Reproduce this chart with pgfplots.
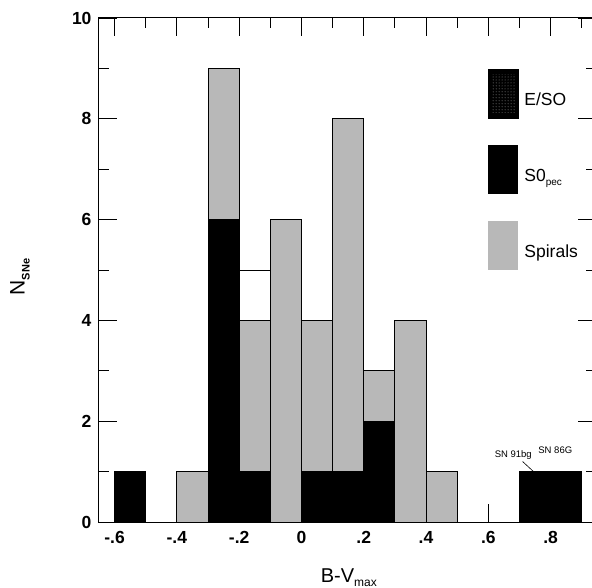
\documentclass[border=0pt]{standalone}
\usepackage{fontspec}
\setmainfont{Liberation Sans}
\usepackage{pgfplots}
\usepackage{pgfplotstable}
\pgfplotsset{compat=1.18}
\usetikzlibrary{patterns}
\definecolor{spiral}{gray}{0.72}

\pgfplotstableread{
x eso s0 sp other
-0.55 1 0 0 0
-0.45 0 0 0 0
-0.35 0 0 1 0
-0.25 6 0 3 0
-0.15 1 0 3 1
-0.05 0 0 6 0
0.05 1 0 3 0
0.15 1 0 7 0
0.25 2 0 1 0
0.35 0 0 4 0
0.45 0 0 1 0
0.55 0 0 0 0
0.65 0 0 0 0
0.75 0 1 0 0
0.85 0 1 0 0
}\bvdata

\begin{document}
\begin{tikzpicture}
\begin{axis}[
  scale only axis,
  width=496.8bp, height=504bp,
  xmin=-0.65, xmax=0.945, ymin=0, ymax=10,
  ybar stacked, bar width=0.1, bar shift=0pt,
  axis on top,
  axis line style={line width=1bp},
  tick align=inside,
  major tick length=18bp, minor tick length=10bp,
  every tick/.style={black, line width=0.8bp},
  xtick={-0.6,-0.4,-0.2,0,0.2,0.4,0.6,0.8},
  xticklabels={-.6,-.4,-.2,0,.2,.4,.6,.8},
  minor xtick={-0.5,-0.3,-0.1,0.1,0.3,0.5,0.7,0.9},
  ytick={0,2,4,6,8,10},
  yticklabels={0,2,4,6,8,10},
  minor ytick={1,3,5,7,9},
  tick label style={font=\fontsize{17.5bp}{20bp}\selectfont\bfseries},
  xticklabel style={yshift=-6bp},
  yticklabel style={xshift=-4bp},
  xlabel={B-V\raisebox{-0.35ex}{\fontsize{12bp}{12bp}\selectfont max}},
  ylabel={N\raisebox{-0.45ex}{\fontsize{11bp}{11bp}\selectfont\bfseries SNe}},
  xlabel style={font=\fontsize{20bp}{22bp}\selectfont, at={(axis description cs:0.503,-0.121)}, anchor=base},
  ylabel style={font=\fontsize{21bp}{22bp}\selectfont, at={(axis description cs:-0.159,0.486)}, anchor=center},
  legend style={at={(axis cs:0.597,9.0)}, anchor=north west, draw=none, fill=none, inner sep=0pt,
    nodes={inner sep=0pt, font=\fontsize{17.5bp}{20bp}\selectfont}, row sep=27bp, column sep=6bp},
  legend cell align=left,
  legend image code/.code={\draw[#1, draw=none] (0bp,-24.5bp+6bp) rectangle (30bp,24.5bp+6bp);},
]
\addplot[fill=black, draw=black, line width=0.8bp,
  legend image code/.code={\fill[black] (0bp,-18.5bp) rectangle (30bp,30.5bp);
    \fill[pattern=dots, pattern color=black!45] (2bp,-14bp) rectangle (28bp,26bp);}]
  table[x=x, y=eso] {\bvdata};
\addlegendentry{E/SO}
\addplot[fill=black, draw=black, line width=0.8bp] table[x=x, y=s0] {\bvdata};
\addlegendentry{S0\raisebox{-0.5ex}{\fontsize{10bp}{10bp}\selectfont pec}}
\addplot[fill=spiral, draw=black, line width=0.8bp] table[x=x, y=sp] {\bvdata};
\addlegendentry{Spirals}
\addplot[fill=white, draw=black, line width=0.8bp, forget plot] table[x=x, y=other] {\bvdata};

\node[font=\fontsize{9.5bp}{11bp}\selectfont] at (axis cs:0.680,1.32) {SN 91bg};
\node[font=\fontsize{9.5bp}{11bp}\selectfont] at (axis cs:0.815,1.43) {SN 86G};
\draw[line width=0.6bp] (axis cs:0.71,1.20) -- (axis cs:0.745,1.0);
\end{axis}
\pgfresetboundingbox
\path (-99bp,-66bp) rectangle (493bp,522bp);
\end{tikzpicture}
\end{document}
